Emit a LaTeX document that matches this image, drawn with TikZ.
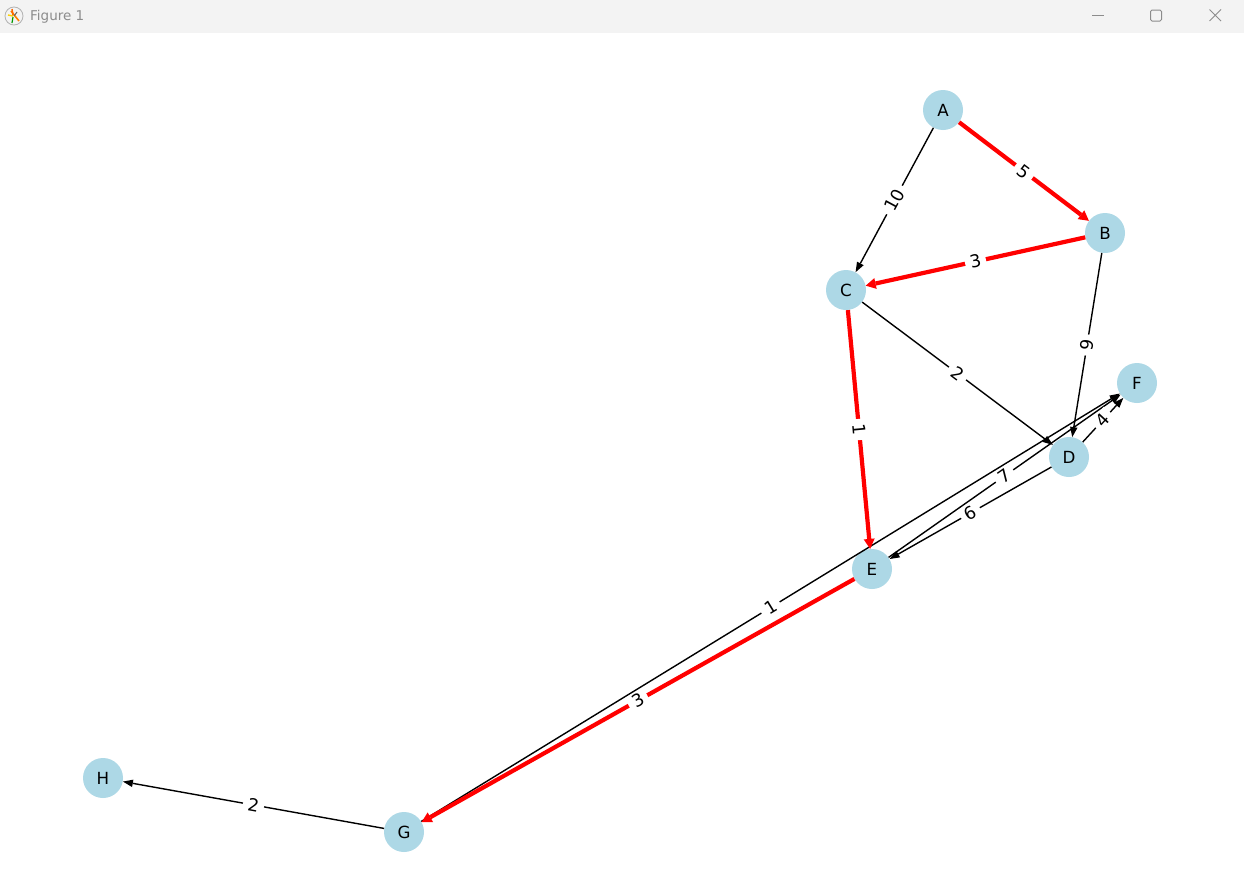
\documentclass[tikz,border=0pt]{standalone}
\usepackage{fontspec}
\setmainfont{DejaVu Sans}
\usetikzlibrary{arrows.meta}
\definecolor{lblue}{HTML}{ADD8E6}
\definecolor{tbar}{HTML}{F3F3F3}
\definecolor{tgray}{HTML}{8C8C8C}
\definecolor{hotred}{HTML}{FF0000}
\begin{document}
\begin{tikzpicture}[x=1pt,y=-1pt,
  vtx/.style={circle,fill=lblue,minimum size=40pt,inner sep=0pt,font=\fontsize{16.7}{18}\selectfont},
  blk/.style={draw=black,line width=1.4pt,-{Triangle[length=10pt,width=7.5pt,line width=0pt]}},
  hot/.style={draw=hotred,line width=4.2pt,-{Triangle[length=10pt,width=11pt,line width=0pt]}},
  wl/.style={fill=white,inner xsep=5pt,inner ysep=2pt,font=\fontsize{17.5}{19}\selectfont,sloped,midway},
  ctl/.style={draw=tgray,line width=1pt}
]
\useasboundingbox (0,0) rectangle (1244,886);
\fill[white] (0,0) rectangle (1244,886);
% title bar
\fill[tbar] (0,0) rectangle (1244,33);
\draw[gray!60,line width=0.8pt] (14,16) circle (9);
\draw[orange,line width=1.6pt] (11,11) -- (19,21);
\draw[yellow!70!orange,line width=1.4pt] (8,15) -- (13,16);
\draw[orange!80!red,line width=1.4pt] (12,9) -- (13,15);
\draw[green!60!black,line width=1.2pt] (13,17) -- (12,23);
\draw[black!60,line width=1pt] (14,16) -- (17,12);
\node[anchor=west,text=tgray,font=\fontsize{13.5}{15}\selectfont,inner sep=0pt] (ttl) at (30,16.5) {Figure 1};
\draw[ctl] (1092,15.5) -- (1104,15.5);
\draw[ctl,rounded corners=1.5pt] (1150.5,10) rectangle (1161.5,21);
\draw[ctl] (1209.5,9.5) -- (1221,21) (1209.5,21) -- (1221,9.5);
% nodes
\node[vtx] (A) at (943,110) {A};
\node[vtx] (B) at (1105,233) {B};
\node[vtx] (C) at (846,290) {C};
\node[vtx] (D) at (1069,457) {D};
\node[vtx] (E) at (872,569) {E};
\node[vtx] (F) at (1137,383) {F};
\node[vtx] (G) at (404,832) {G};
\node[vtx] (H) at (103,778) {H};
% edges
\draw[blk] (A) -- (C);
\draw[blk] (B) -- (D);
\draw[blk] (C) -- (D);
\draw[blk] (D) -- (E);
\draw[blk] (D) -- (F);
\draw[blk] (E) -- (F);
\draw[blk] (G) -- (F);
\draw[blk] (G) -- (H);
\draw[hot] (A) -- (B);
\draw[hot] (B) -- (C);
\draw[hot] (C) -- (E);
\draw[hot] (E) -- (G);
% labels
\path (A) -- node[wl]{5} (B);
\path (A) -- node[wl]{10} (C);
\path (B) -- node[wl]{3} (C);
\path (B) -- node[wl]{9} (D);
\path (C) -- node[wl]{2} (D);
\path (C) -- node[wl]{1} (E);
\path (D) -- node[wl]{6} (E);
\path (D) -- node[wl]{4} (F);
\path (E) -- node[wl]{7} (F);
\path (G) -- node[wl]{1} (F);
\path (E) -- node[wl]{3} (G);
\path (G) -- node[wl]{2} (H);
\end{tikzpicture}
\end{document}
